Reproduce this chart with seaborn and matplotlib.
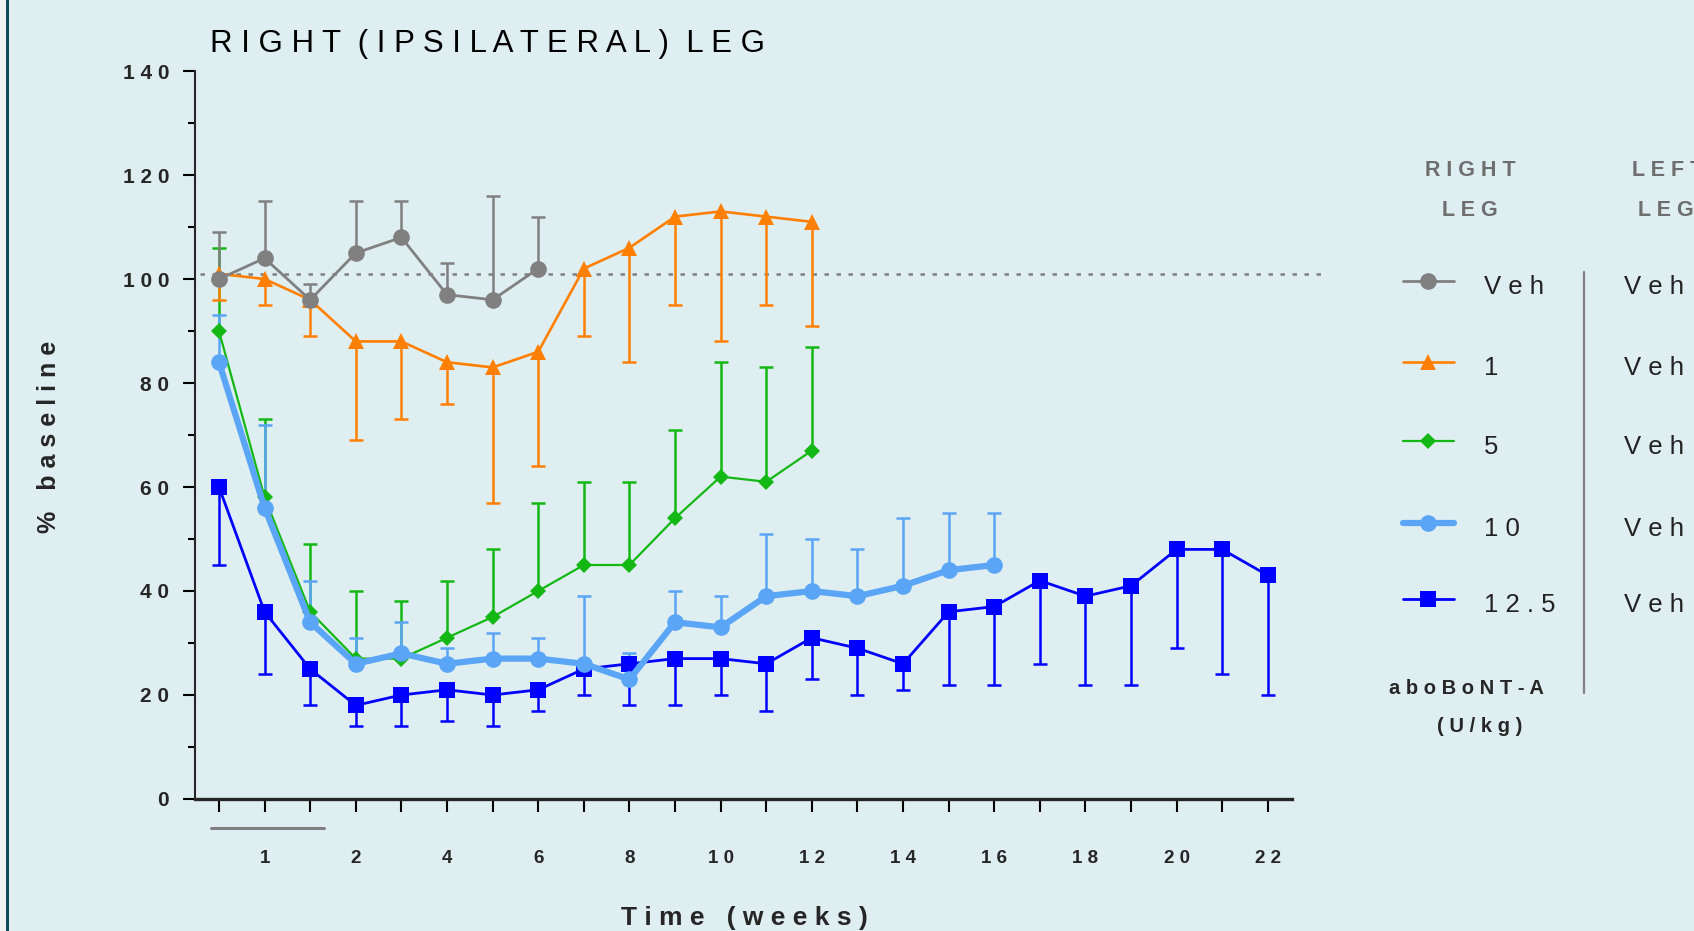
import numpy as np
import pandas as pd
import seaborn as sns
import matplotlib.pyplot as plt
from matplotlib import font_manager
from matplotlib.lines import Line2D
from matplotlib.patches import Rectangle

# colours
BG = "#dfeef1"
GRAY = "#808080"
ORANGE = "#ff8000"
GREEN = "#14b814"
LIGHT_BLUE = "#5aa5f6"
BLUE = "#0000ff"

# ----------------------------------------------------------------------
# DATA (% baseline)
# ----------------------------------------------------------------------
time_pos = [0, 1, 2, 3, 4, 5, 6, 7, 8, 9, 10, 11, 12, 13, 14, 15, 16, 17, 18, 19, 20, 21, 22, 23]
xtick_labels = ["", "1", "", "2", "", "4", "", "6", "", "8", "", "10",
                "", "12", "", "14", "", "16", "", "18", "", "20", "", "22"]

veh_mean = [100, 104, 96, 105, 108, 97, 96, 102]
veh_err_hi = [109, 115, 99, 115, 115, 103, 116, 112]

d1_mean = [101, 100, 96, 88, 88, 84, 83, 86, 102, 106, 112, 113, 112, 111]
d1_err_lo = [96, 95, 89, 69, 73, 76, 57, 64, 89, 84, 95, 88, 95, 91]

d5_mean = [90, 58, 36, 27, 27, 31, 35, 40, 45, 45, 54, 62, 61, 67]
d5_err_hi = [106, 73, 49, 40, 38, 42, 48, 57, 61, 61, 71, 84, 83, 87]

d10_mean = [84, 56, 34, 26, 28, 26, 27, 27, 26, 23, 34, 33, 39, 40, 39, 41, 44, 45]
d10_err_hi = [93, 72, 42, 31, 34, 29, 32, 31, 39, 28, 40, 39, 51, 50, 48, 54, 55, 55]

d125_mean = [60, 36, 25, 18, 20, 21, 20, 21, 25, 26, 27, 27, 26, 31, 29, 26,
             36, 37, 42, 39, 41, 48, 48, 43]
d125_err_lo = [45, 24, 18, 14, 14, 15, 14, 17, 20, 18, 18, 20, 17, 23, 20, 21,
               22, 22, 26, 22, 22, 29, 24, 20]

baseline_ref = 101

legend_labels = ["Veh", "1", "5", "10", "12.5"]
left_leg_labels = ["Veh", "Veh", "Veh", "Veh", "Veh"]

# ----------------------------------------------------------------------
# STYLE
# ----------------------------------------------------------------------
sns.set_style("ticks")
try:
    font_manager.findfont(font_manager.FontProperties(family="Liberation Sans Narrow"),
                          fallback_to_default=False)
    FONT = ["Liberation Sans Narrow", "DejaVu Sans"]
except Exception:
    FONT = ["Liberation Sans", "DejaVu Sans"]
plt.rcParams["font.family"] = FONT


def spaced(s):
    return " ".join(s)


series = [
    # name, x, mean, err end, color, marker, ms, lw
    ("12.5", time_pos[:len(d125_mean)], d125_mean, d125_err_lo, BLUE, "s", 11.5, 2.0),
    ("5", time_pos[:len(d5_mean)], d5_mean, d5_err_hi, GREEN, "D", 8, 1.6),
    ("10", time_pos[:len(d10_mean)], d10_mean, d10_err_hi, LIGHT_BLUE, "o", 12, 4.5),
    ("1", time_pos[:len(d1_mean)], d1_mean, d1_err_lo, ORANGE, "^", 12, 1.9),
    ("Veh", time_pos[:len(veh_mean)], veh_mean, veh_err_hi, GRAY, "o", 12, 2.0),
]

fig = plt.figure(figsize=(16.94, 9.31), dpi=100, facecolor=BG)
ax = fig.add_axes([0.1154, 0.1418, 0.6473, 0.7819])
ax.set_facecolor(BG)

for name, x, mean, err_end, color, marker, ms, lw in series:
    df = pd.DataFrame({"time": x, "pct": mean})
    # one-sided error bars with caps
    ax.vlines(x, mean, err_end, color=color, linewidth=1.8, zorder=1.5)
    ax.plot(x, err_end, linestyle="none", marker="_", markersize=10,
            markeredgewidth=1.8, color=color, zorder=1.5)
    sns.lineplot(data=df, x="time", y="pct", ax=ax, color=color, marker=marker,
                 markersize=ms, markeredgewidth=0, linewidth=lw, zorder=3)

# dotted 100% reference line (runs past the axis end)
ax.plot([-0.42, 24.19], [baseline_ref, baseline_ref], color=GRAY, linewidth=1.8,
        linestyle=(0, (1.8, 3)), clip_on=False, zorder=1)

# axes
ax.set_xlim(-0.515, 23.53)
ax.set_ylim(0, 140)
ax.set_yticks(np.arange(0, 141, 20))
ax.set_yticks(np.arange(10, 140, 20), minor=True)
ax.set_yticklabels([spaced(str(v)) for v in range(0, 141, 20)],
                   fontsize=15, fontweight="bold")
ax.set_xticks(time_pos)
ax.set_xticklabels([spaced(s) for s in xtick_labels], fontsize=13.5, fontweight="bold")
ax.tick_params(axis="y", which="major", length=9, width=1.5, pad=10, color="black")
ax.tick_params(axis="y", which="minor", length=5, width=1.5, color="black")
ax.tick_params(axis="x", which="major", length=9.5, width=1.5, pad=27, color="black")
ax.set_xlabel("")
ax.set_ylabel("")
sns.despine(ax=ax)
ax.spines["left"].set_linewidth(1.5)
ax.spines["bottom"].set_linewidth(2.4)

# grey bracket under the first week
ax.plot([-0.18, 2.3], [-5.6, -5.6], color=GRAY, linewidth=2.2, clip_on=False)

# titles
fig.text(210 / 1694, 1 - 44 / 931, spaced("RIGHT (IPSILATERAL) LEG").replace("   ", "  "),
         fontsize=22.5, ha="left", va="center", color="black")
fig.text(744 / 1694, 1 - 918 / 931, spaced("Time (weeks)"), fontsize=19,
         fontweight="bold", ha="center", va="center")
fig.text(49 / 1694, 1 - 437 / 931, spaced("% baseline"), fontsize=18,
         fontweight="bold", ha="center", va="center", rotation=90)


# legend (drawn by hand to mimic the layout)
def fx(px):
    return px / 1694


def fy(py):
    return 1 - py / 931


fig.text(fx(1470), fy(171), spaced("RIGHT"), fontsize=15.5, fontweight="bold",
         color="#6e6e6e", ha="center", va="center")
fig.text(fx(1470), fy(210), spaced("LEG"), fontsize=15.5, fontweight="bold",
         color="#6e6e6e", ha="center", va="center")
fig.text(fx(1632), fy(171), spaced("LEFT"), fontsize=15.5, fontweight="bold",
         color="#6e6e6e", ha="left", va="center")
fig.text(fx(1638), fy(210), spaced("LEG"), fontsize=15.5, fontweight="bold",
         color="#6e6e6e", ha="left", va="center")

row_y = [281, 362, 441, 523, 599]
legend_style = {s[0]: s for s in series}
for lab, right_lab, yy in zip(legend_labels, left_leg_labels, row_y):
    _, _, _, _, color, marker, ms, lw = legend_style[lab]
    fig.add_artist(Line2D([fx(1403), fx(1454)], [fy(yy), fy(yy)], color=color,
                          linewidth=lw, transform=fig.transFigure))
    fig.add_artist(Line2D([fx(1428)], [fy(yy)], color=color, marker=marker,
                          markersize=ms, markeredgewidth=0, linestyle="none",
                          transform=fig.transFigure))
    fig.text(fx(1484), fy(yy + 6), spaced(lab), fontsize=18.5, color="#222222",
             ha="left", va="center")
    fig.text(fx(1624), fy(yy + 6), spaced(right_lab), fontsize=18.5, color="#222222",
             ha="left", va="center")

fig.add_artist(Line2D([fx(1584), fx(1584)], [fy(272), fy(693)], color=GRAY,
                      linewidth=1.6, transform=fig.transFigure))
fig.text(fx(1466), fy(688), spaced("aboBoNT-A"), fontsize=14.5, fontweight="bold",
         ha="center", va="center")
fig.text(fx(1480), fy(727), spaced("(U/kg)"), fontsize=14.5, fontweight="bold",
         ha="center", va="center")

# page edge: light strip and dark border on the left
fig.add_artist(Rectangle((0, 0), fx(6), 1, transform=fig.transFigure,
                         facecolor="#f2f2f2", edgecolor="none"))
fig.add_artist(Rectangle((fx(6), 0), fx(2.5), 1, transform=fig.transFigure,
                         facecolor="#0e4a5e", edgecolor="none"))

fig.savefig("out.png", dpi=100, facecolor=BG)
